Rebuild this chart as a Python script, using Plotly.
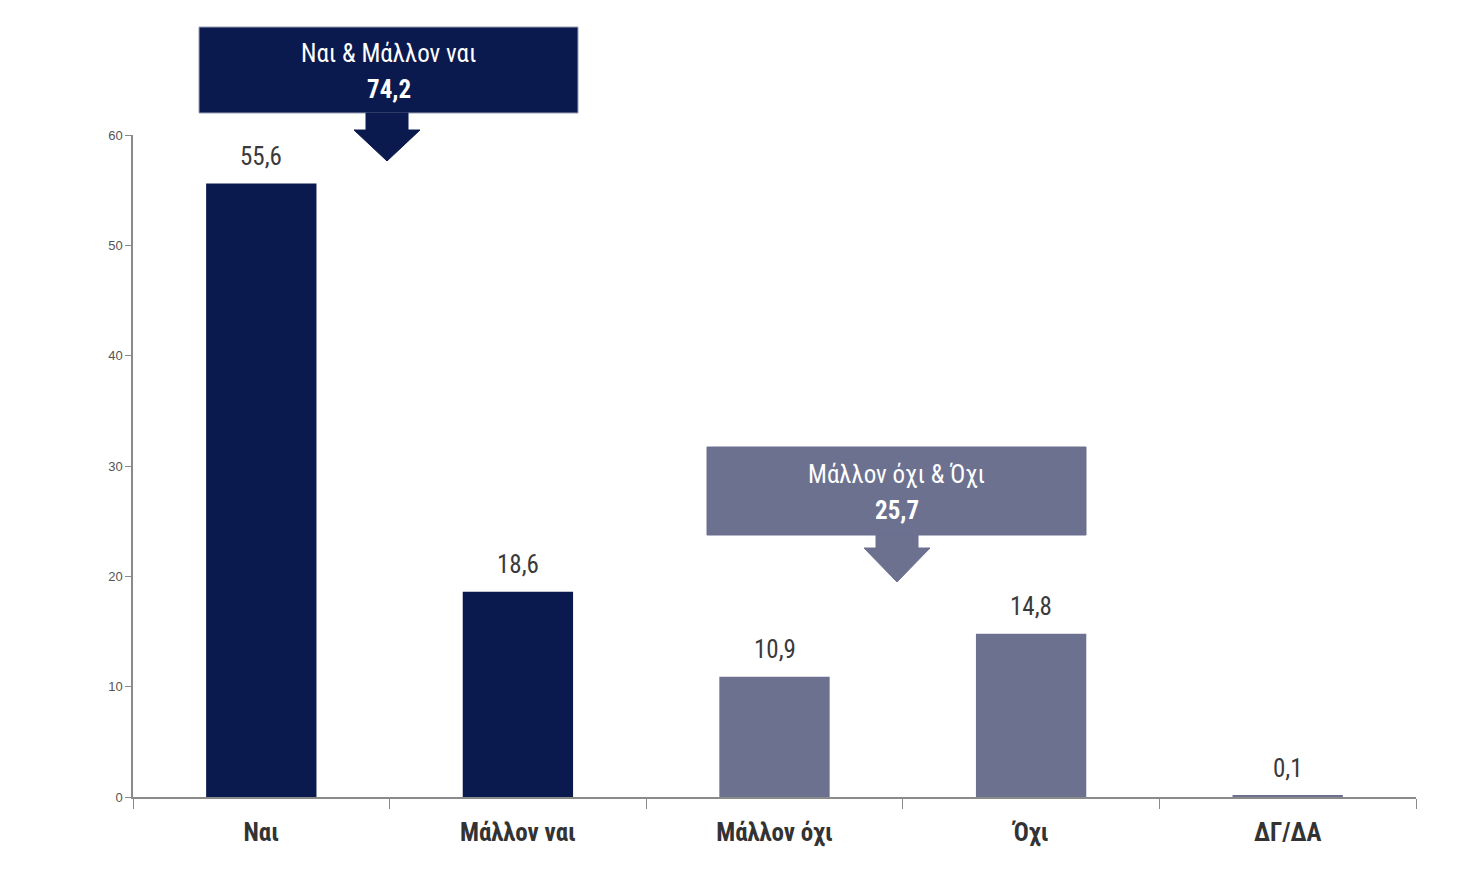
import plotly.graph_objects as go

categories = ["Ναι", "Μάλλον ναι", "Μάλλον όχι", "Όχι", "ΔΓ/ΔΑ"]
values = [55.6, 18.6, 10.9, 14.8, 0.1]
group_labels = ["Ναι & Μάλλον ναι", "Μάλλον όχι & Όχι"]
group_totals = [74.2, 25.7]

NAVY = "#0B1A4E"
GRAY = "#6D7190"
bar_colors = [NAVY, NAVY, GRAY, GRAY, GRAY]
FONT = "Liberation Sans Narrow, Roboto Condensed, Arial Narrow, Liberation Sans, Arial, sans-serif"

# page offset from default body margin
OFF = 8
W, H = 1460 - OFF, 879 - OFF
ML, MR, MT, MB = 133 - OFF, 44, 135 - OFF, 82
PW, PH = W - ML - MR, H - MT - MB


def px(x):
    return (x - OFF - ML) / PW


def py(y):
    return (H - MB - (y - OFF)) / PH


fig = go.Figure(
    go.Bar(
        x=categories,
        y=values,
        marker=dict(color=bar_colors, line=dict(width=0)),
        width=0.43,
        hoverinfo="skip",
    )
)

shapes = []
annotations = []
for c, v in zip(categories, values):
    annotations.append(dict(xref="x", yref="y", x=c, y=v, yshift=27, yanchor="middle",
                            text=f"{v:.1f}".replace(".", ","), showarrow=False,
                            font=dict(family=FONT, size=25, color="#3a3a3a")))

boxes = [
    # (x0, x1, ytop, ybot, arrow_cx, stem_end, tip, color)
    (199, 578, 27, 113, 387, 130, 161, NAVY),
    (707, 1086, 447, 535, 897, 548, 582, GRAY),
]
for i, (x0, x1, yt, yb, cx, se, tip, col) in enumerate(boxes):
    shapes.append(dict(type="rect", xref="paper", yref="paper",
                       x0=px(x0), x1=px(x1), y0=py(yb), y1=py(yt),
                       fillcolor=col, line=dict(color="#9aa0b5" if i == 0 else col, width=1),
                       layer="above"))
    sh, hh = 21, 33
    path = (f"M {px(cx - sh)},{py(yb)} L {px(cx + sh)},{py(yb)} L {px(cx + sh)},{py(se)} "
            f"L {px(cx + hh)},{py(se)} L {px(cx)},{py(tip)} L {px(cx - hh)},{py(se)} "
            f"L {px(cx - sh)},{py(se)} Z")
    shapes.append(dict(type="path", xref="paper", yref="paper", path=path,
                       fillcolor=col, line=dict(color=col, width=1), layer="above"))
    mid = (yt + yb) / 2
    xc = px((x0 + x1) / 2)
    annotations.append(dict(xref="paper", yref="paper", x=xc, y=py(mid - 17),
                            xanchor="center", yanchor="middle",
                            text=group_labels[i], showarrow=False,
                            font=dict(family=FONT, size=25, color="white")))
    annotations.append(dict(xref="paper", yref="paper", x=xc, y=py(mid + 19),
                            xanchor="center", yanchor="middle",
                            text=f"<b>{group_totals[i]:.1f}</b>".replace(".", ","), showarrow=False,
                            font=dict(family=FONT, size=25, color="white")))

fig.update_layout(
    width=W, height=H,
    margin=dict(l=ML, r=MR, t=MT, b=MB),
    paper_bgcolor="white", plot_bgcolor="white",
    showlegend=False,
    shapes=shapes,
    annotations=annotations,
    xaxis=dict(
        type="category", range=[-0.5, 4.5],
        showline=True, linecolor="#8a8a8a", linewidth=1.5,
        ticks="outside", tickson="boundaries", ticklen=10, tickcolor="#8a8a8a",
        tickfont=dict(family=FONT, size=25, color="#333333", weight="bold"),
        ticklabelstandoff=12,
        showgrid=False, zeroline=False,
    ),
    yaxis=dict(
        range=[0, 60], dtick=10,
        showline=True, linecolor="#8a8a8a", linewidth=1.5,
        ticks="outside", ticklen=6, tickcolor="#8a8a8a",
        tickfont=dict(family="Liberation Sans, Arial, sans-serif", size=13, color="#555555"),
        showgrid=False, zeroline=False,
    ),
)

fig.write_html("out.html")
